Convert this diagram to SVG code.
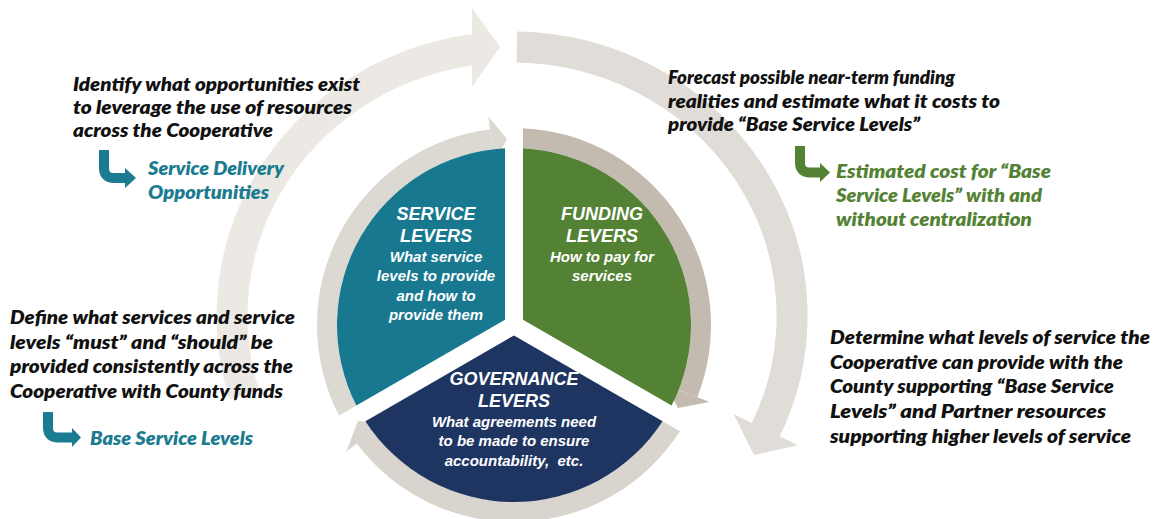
<svg xmlns="http://www.w3.org/2000/svg" width="1155" height="519" viewBox="0 0 1155 519">
  <defs>
    <style>
      .note{font-family:Lato,"Liberation Sans",sans-serif;font-weight:800;font-style:italic;font-size:18px;fill:#111111;}
      .teal{fill:#1b7b90;}
      .green{fill:#548235;}
      .lever{font-family:"Liberation Sans",Arial,sans-serif;font-weight:bold;font-style:italic;fill:#ffffff;text-anchor:middle;}
      .head{font-size:18px;}
      .sub{font-size:15px;}
      .outer{fill:none;stroke-width:31;}
      .hook{fill:none;stroke-width:10;}
    </style>
  </defs>

  <!-- outer cycle: two large curved arrows -->
  <g id="connectors">
    <path class="outer" stroke="#ece9e5" d="M244.2,394.6 A280 269 0 0 1 473.5,49.6"/>
    <polygon fill="#ece9e5" points="472,8 500,47 472,87"/>
    <path class="outer" stroke="#e0dcd7" d="M516.9,47 A280 269 0 0 1 765.8,429.7"/>
    <polygon fill="#e0dcd7" points="733.8,414.2 797.8,445.2 754,455"/>

    <!-- inner ring segments around the levers -->
    <path fill="#dcd8d2" d="M356.41,405.59 L339.08,415.6 A197 197 0 0 1 489.99,129.47 L492.43,149.32 A177 177 0 0 0 356.41,405.59 Z"/>
    <polygon fill="#dcd8d2" points="488.4,116.6 507,139 494.1,163.2"/>
    <path fill="#c3bab0" d="M523,148.23 L523,128.21 A197 197 0 0 1 697.29,397.2 L678.68,389.87 A177 177 0 0 0 523,148.23 Z"/>
    <polygon fill="#c3bab0" points="709.4,402 678,408 665.7,384.7"/>
    <path fill="#d9d4ce" d="M662.59,421.18 L679.92,431.19 A197 197 0 0 1 356.67,443.56 L372.64,431.52 A177 177 0 0 0 662.59,421.18 Z"/>
    <polygon fill="#d9d4ce" points="346.3,451.4 358,421 383.8,423.1"/>

    <!-- small hook arrows leading to outcomes -->
    <path class="hook" stroke="#1b7b90" d="M104,150 V168 Q104,178 114,178 H126"/>
    <polygon fill="#1b7b90" points="125,168 136,178 125,188"/>
    <path class="hook" stroke="#1b7b90" d="M48,412 V427.5 Q48,437.5 58,437.5 H73"/>
    <polygon fill="#1b7b90" points="72,428 81,437.5 72,447"/>
    <path class="hook" stroke="#548235" d="M800,146 V162.5 Q800,172.5 810,172.5 H821"/>
    <polygon fill="#548235" points="820,163 830,172.5 820,182"/>
  </g>

  <g id="service-levers">
    <path fill="#17788f" d="M505,319.8 L505,148.23 A177 177 0 0 0 356.41,405.59 Z"/>
    <text class="lever head" x="436" y="220">SERVICE</text>
    <text class="lever head" x="436" y="242">LEVERS</text>
    <text class="lever sub" x="436" y="262">What service</text>
    <text class="lever sub" x="436" y="281">levels to provide</text>
    <text class="lever sub" x="436" y="301">and how to</text>
    <text class="lever sub" x="436" y="320">provide them</text>
  </g>

  <g id="funding-levers">
    <path fill="#548235" d="M523,319.8 L523,148.23 A177 177 0 0 1 671.59,405.59 Z"/>
    <text class="lever head" x="602" y="220">FUNDING</text>
    <text class="lever head" x="602" y="242">LEVERS</text>
    <text class="lever sub" x="602" y="262">How to pay for</text>
    <text class="lever sub" x="602" y="281">services</text>
  </g>

  <g id="governance-levers">
    <path fill="#1f3561" d="M514,335.39 L662.59,421.18 A177 177 0 0 1 365.41,421.18 Z"/>
    <text class="lever head" x="514" y="385">GOVERNANCE</text>
    <text class="lever head" x="514" y="407">LEVERS</text>
    <text class="lever sub" x="514" y="427">What agreements need</text>
    <text class="lever sub" x="514" y="446">to be made to ensure</text>
    <text class="lever sub" x="514" y="466" style="white-space:pre">accountability,  etc.</text>
  </g>

  <g id="note-opportunities">
    <text class="note" x="73" y="91" textLength="287" lengthAdjust="spacingAndGlyphs">Identify what opportunities exist</text>
    <text class="note" x="73" y="114" textLength="279" lengthAdjust="spacingAndGlyphs">to leverage the use of resources</text>
    <text class="note" x="73" y="137" textLength="200" lengthAdjust="spacingAndGlyphs">across the Cooperative</text>
    <text class="note teal" x="148" y="175" textLength="136" lengthAdjust="spacingAndGlyphs">Service Delivery</text>
    <text class="note teal" x="148" y="199" textLength="121" lengthAdjust="spacingAndGlyphs">Opportunities</text>
  </g>

  <g id="note-forecast">
    <text class="note" x="668" y="84" textLength="287" lengthAdjust="spacingAndGlyphs">Forecast possible near-term funding</text>
    <text class="note" x="668" y="107.5" textLength="332" lengthAdjust="spacingAndGlyphs">realities and estimate what it costs to</text>
    <text class="note" x="668" y="131" textLength="252" lengthAdjust="spacingAndGlyphs">provide “Base Service Levels”</text>
    <text class="note green" x="836" y="177.5" textLength="215" lengthAdjust="spacingAndGlyphs">Estimated cost for “Base</text>
    <text class="note green" x="836" y="202" textLength="206" lengthAdjust="spacingAndGlyphs">Service Levels” with and</text>
    <text class="note green" x="836" y="226" textLength="196" lengthAdjust="spacingAndGlyphs">without centralization</text>
  </g>

  <g id="note-base-levels">
    <text class="note" x="10" y="324" textLength="285" lengthAdjust="spacingAndGlyphs">Define what services and service</text>
    <text class="note" x="10" y="348.5" textLength="263" lengthAdjust="spacingAndGlyphs">levels “must” and “should” be</text>
    <text class="note" x="10" y="373" textLength="283" lengthAdjust="spacingAndGlyphs">provided consistently across the</text>
    <text class="note" x="10" y="397.5" textLength="273" lengthAdjust="spacingAndGlyphs">Cooperative with County funds</text>
    <text class="note teal" x="90" y="445" textLength="163" lengthAdjust="spacingAndGlyphs">Base Service Levels</text>
  </g>

  <g id="note-service-levels">
    <text class="note" x="830" y="344" textLength="320" lengthAdjust="spacingAndGlyphs">Determine what levels of service the</text>
    <text class="note" x="830" y="368.5" textLength="293" lengthAdjust="spacingAndGlyphs">Cooperative can provide with the</text>
    <text class="note" x="830" y="393" textLength="284" lengthAdjust="spacingAndGlyphs">County supporting “Base Service</text>
    <text class="note" x="830" y="418" textLength="276" lengthAdjust="spacingAndGlyphs">Levels” and Partner resources</text>
    <text class="note" x="830" y="443" textLength="301" lengthAdjust="spacingAndGlyphs">supporting higher levels of service</text>
  </g>
</svg>
